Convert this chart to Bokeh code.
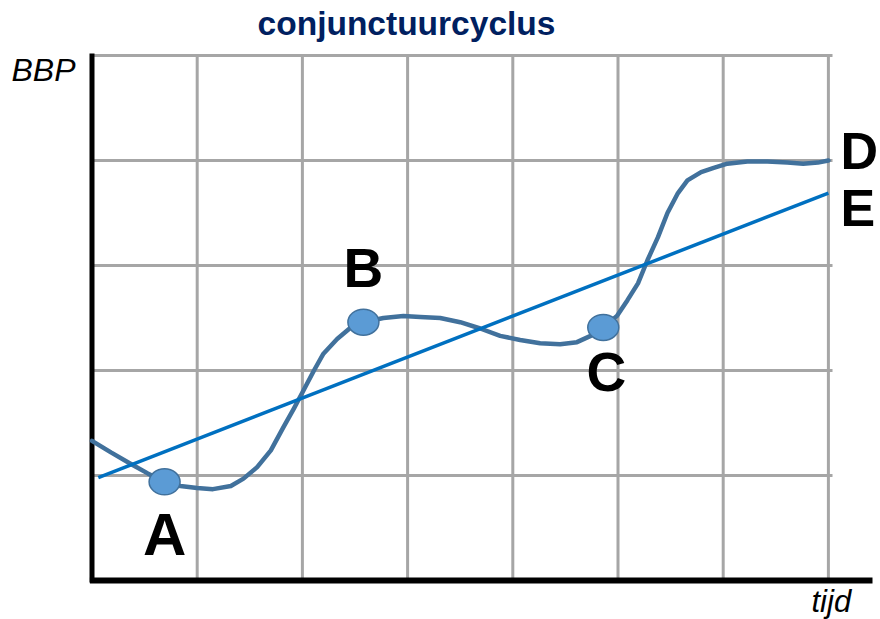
from bokeh.plotting import figure
from bokeh.models import Range1d
from bokeh.core.properties import value
from bokeh.embed import file_html
from bokeh.resources import INLINE

# ---- data ----
title_text = "conjunctuurcyclus"
y_label = "BBP"
x_label = "tijd"

grid_x = [1, 2, 3, 4, 5, 6, 7]
grid_y = [1, 2, 3, 4, 5]

# business cycle curve
cycle_x = [0.00, 0.18, 0.37, 0.53, 0.69, 0.84, 1.00, 1.15, 1.32, 1.44, 1.57, 1.70,
           1.82, 1.92, 2.01, 2.11, 2.20, 2.33, 2.46, 2.58, 2.77, 2.96, 3.12, 3.31,
           3.50, 3.69, 3.88, 4.07, 4.26, 4.45, 4.61, 4.74, 4.86, 4.99, 5.09, 5.19,
           5.28, 5.38, 5.47, 5.57, 5.66, 5.79, 5.91, 6.04, 6.23, 6.42, 6.61, 6.76,
           6.90, 7.00]
cycle_y = [1.33, 1.22, 1.11, 1.02, 0.94, 0.90, 0.88, 0.87, 0.90, 0.97, 1.08, 1.24,
           1.46, 1.64, 1.81, 2.00, 2.16, 2.30, 2.41, 2.46, 2.50, 2.52, 2.51, 2.50,
           2.46, 2.40, 2.33, 2.29, 2.26, 2.25, 2.27, 2.33, 2.41, 2.52, 2.67, 2.83,
           3.05, 3.27, 3.50, 3.69, 3.81, 3.89, 3.93, 3.97, 3.99, 3.99, 3.98, 3.97,
           3.98, 4.00]

# trend line
trend_x = [0.06, 7.00]
trend_y = [0.98, 3.69]

# marked points
point_names = ["A", "B", "C"]
point_x = [0.69, 2.58, 4.86]
point_y = [0.94, 2.46, 2.41]

# ---- layout (pixel mapping) ----
W, H = 880, 619
X0, XU = 91.5, 105.2   # canvas px of x=0, px per unit
Y0, YU = 580.0, 105.0  # canvas px of y=0, px per unit


def dx(px):
    return (px - X0) / XU


def dy(py):
    return (Y0 - py) / YU


p = figure(width=W, height=H, output_backend="svg", toolbar_location=None,
           x_axis_location=None, y_axis_location=None, min_border=0,
           x_range=Range1d(-X0 / XU, (W - X0) / XU),
           y_range=Range1d((Y0 - H) / YU, Y0 / YU))
p.grid.visible = False
p.outline_line_color = None
p.background_fill_color = "white"
p.border_fill_color = "white"

grid_col = "#a6a6a6"
# vertical grid lines
p.segment(x0=grid_x, y0=[0] * len(grid_x), x1=grid_x, y1=[max(grid_y)] * len(grid_x),
          line_color=grid_col, line_width=3)
# horizontal grid lines
p.segment(x0=[0] * len(grid_y), y0=grid_y, x1=[dx(832)] * len(grid_y), y1=grid_y,
          line_color=grid_col, line_width=3)

# axes
p.segment(x0=[0], y0=[-0.02], x1=[0], y1=[max(grid_y) + 0.02], line_color="black", line_width=5)
p.segment(x0=[-0.02], y0=[0], x1=[dx(872)], y1=[0], line_color="black", line_width=6)

# curve and trend
p.line(cycle_x, cycle_y, line_color="#41719c", line_width=4.5, line_cap="round", line_join="round")
p.line(trend_x, trend_y, line_color="#0070c0", line_width=3.5)

# markers
p.ellipse(x=point_x, y=point_y, width=31, height=26, width_units="screen",
          height_units="screen", fill_color="#5b9bd5", line_color="#41719c", line_width=1.5)

font = value("Liberation Sans")
# point labels
offs_x = [0, 0, 3]
offs_y = [53, -54, 45]
sizes = ["60px", "55px", "55px"]
for n, xx, yy, ox, oy, s in zip(point_names, point_x, point_y, offs_x, offs_y, sizes):
    p.text(x=[xx], y=[yy], text=[n], x_offset=ox, y_offset=oy, text_font=font,
           text_font_style="bold", text_font_size=s, text_align="center",
           text_baseline="middle", text_color="black")

p.text(x=[cycle_x[-1]], y=[cycle_y[-1]], text=["D"], x_offset=12, y_offset=-10,
       text_font=font, text_font_style="bold", text_font_size="52px",
       text_align="left", text_baseline="middle", text_color="black")
p.text(x=[trend_x[-1]], y=[trend_y[-1]], text=["E"], x_offset=12, y_offset=15,
       text_font=font, text_font_style="bold", text_font_size="52px",
       text_align="left", text_baseline="middle", text_color="black")

# title and axis labels
p.text(x=[dx(406)], y=[dy(23)], text=[title_text], text_font=font, text_font_style="bold",
       text_font_size="33.5px", text_align="center", text_baseline="middle",
       text_color="#002060")
p.text(x=[dx(11)], y=[dy(69)], text=[y_label], text_font=font, text_font_style="italic",
       text_font_size="32px", text_align="left", text_baseline="middle",
       text_color="black")
p.text(x=[dx(811)], y=[dy(601)], text=[x_label], text_font=font, text_font_style="italic",
       text_font_size="31px", text_align="left", text_baseline="middle",
       text_color="black")

open("out.html", "w").write(file_html(p, INLINE))
